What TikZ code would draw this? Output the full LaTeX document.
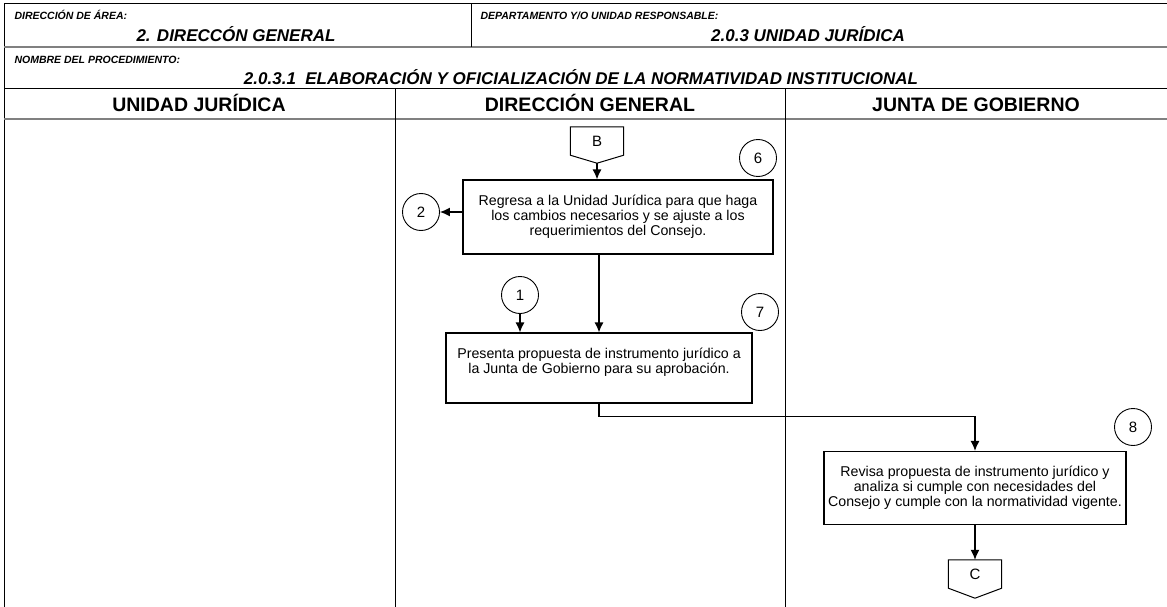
\documentclass[tikz,border=0pt]{standalone}
\usepackage{fontspec}
\setmainfont{Liberation Sans}
\usetikzlibrary{calc,arrows.meta}

\begin{document}
\begin{tikzpicture}[x=1pt,y=-1pt,
  caja/.style={draw,line width=1.2pt,align=center,inner sep=0pt,font=\fontsize{14.2}{15}\selectfont},
  num/.style={draw,circle,line width=0.9pt,minimum size=37pt,inner sep=0pt,font=\fontsize{15}{17}\selectfont},
  conec/.style={inner sep=0pt,minimum width=53pt,minimum height=28pt,font=\fontsize{15}{17}\selectfont},
  flecha/.style={line width=1.2pt,-{Latex[length=10pt,width=9pt]}},
  etiq/.style={anchor=base west,font=\fontsize{10.5}{12}\bfseries\itshape\selectfont},
  titulo/.style={anchor=base,font=\fontsize{17}{19}\bfseries\itshape\selectfont},
  carril/.style={anchor=base,font=\fontsize{19.5}{21}\bfseries\selectfont},
]
\useasboundingbox (0,0) rectangle (1167,607);
%\draw[help lines] (0,0) grid[step=50] (1167,607);

% encabezado
\draw[line width=1pt] (4,607) -- (4,4) -- (1167,4);
\draw[line width=1.5pt,gray] (4,47) -- (1167,47);
\draw[line width=1pt] (4,89) -- (1167,89);
\draw[line width=1.5pt,gray] (4,119) -- (1167,119);
\draw[line width=1pt] (471,4) -- (471,47);
\draw[line width=1pt] (395,89) -- (395,607);
\draw[line width=1pt] (785,89) -- (785,607);

\node[etiq] (l1) at (11,20) {DIRECCIÓN DE ÁREA:};
\node[titulo] (t1) at (236,42) {2. DIRECCÓN GENERAL};
\node[etiq] (l2) at (477,20) {DEPARTAMENTO Y/O UNIDAD RESPONSABLE:};
\node[titulo] (t2) at (808,42) {2.0.3 UNIDAD JURÍDICA};
\node[etiq] (l3) at (11,64) {NOMBRE DEL PROCEDIMIENTO:};
\node[titulo] (t3) at (581,85) {2.0.3.1\ \ ELABORACIÓN Y OFICIALIZACIÓN DE LA NORMATIVIDAD INSTITUCIONAL};

\node[carril] (uj) at (199,112) {UNIDAD JURÍDICA};
\node[carril] (dg) at (590,112) {DIRECCIÓN GENERAL};
\node[carril] (jg) at (976,112) {JUNTA DE GOBIERNO};

% conectores
\node[conec] (bconn) at (597,141) {B};
\draw[line width=1pt] (bconn.north west) -- (bconn.north east) -- (bconn.south east)
  -- ($(bconn.south)+(0,8)$) -- (bconn.south west) -- cycle;
\node[conec] (cconn) at (975,574) {C};
\draw[line width=1pt] (cconn.north west) -- (cconn.north east) -- (cconn.south east)
  -- ($(cconn.south)+(0,10)$) -- (cconn.south west) -- cycle;

% actividades
\node[caja,minimum width=310pt,minimum height=74pt] (caja6) at (618,217)
  {Regresa a la Unidad Jurídica para que haga\\los cambios necesarios y se ajuste a los\\requerimientos del Consejo.};
\node[caja,minimum width=306pt,minimum height=70pt] (caja7) at (599,368)
  {Presenta propuesta de instrumento jurídico a\\la Junta de Gobierno para su aprobación.\\\mbox{}};
\node[caja,minimum width=302pt,minimum height=73pt] (caja8) at (975,488)
  {Revisa propuesta de instrumento jurídico y\\analiza si cumple con necesidades del\\Consejo y cumple con la normatividad vigente.};

\node[num] (c6) at (758,158) {6};
\node[num] (c2) at (421,212) {2};
\node[num] (c1) at (520,295) {1};
\node[num] (c7) at (760,312) {7};
\node[num] (c8) at (1133,427) {8};

% flechas
\draw[flecha] ($(bconn.south)+(0,8)$) -- (bconn.south |- caja6.north);
\draw[flecha] (caja6.west |- c2) -- (c2.east);
\draw[flecha] (c1.south) -- (c1.south |- caja7.north);
\draw[flecha] (caja6.south -| caja7.north) -- (caja7.north);
\draw[flecha] (caja7.south) -- ++(0,13) -| (caja8.north);
\draw[flecha] (caja8.south) -- (cconn.north);
\end{tikzpicture}
\end{document}
